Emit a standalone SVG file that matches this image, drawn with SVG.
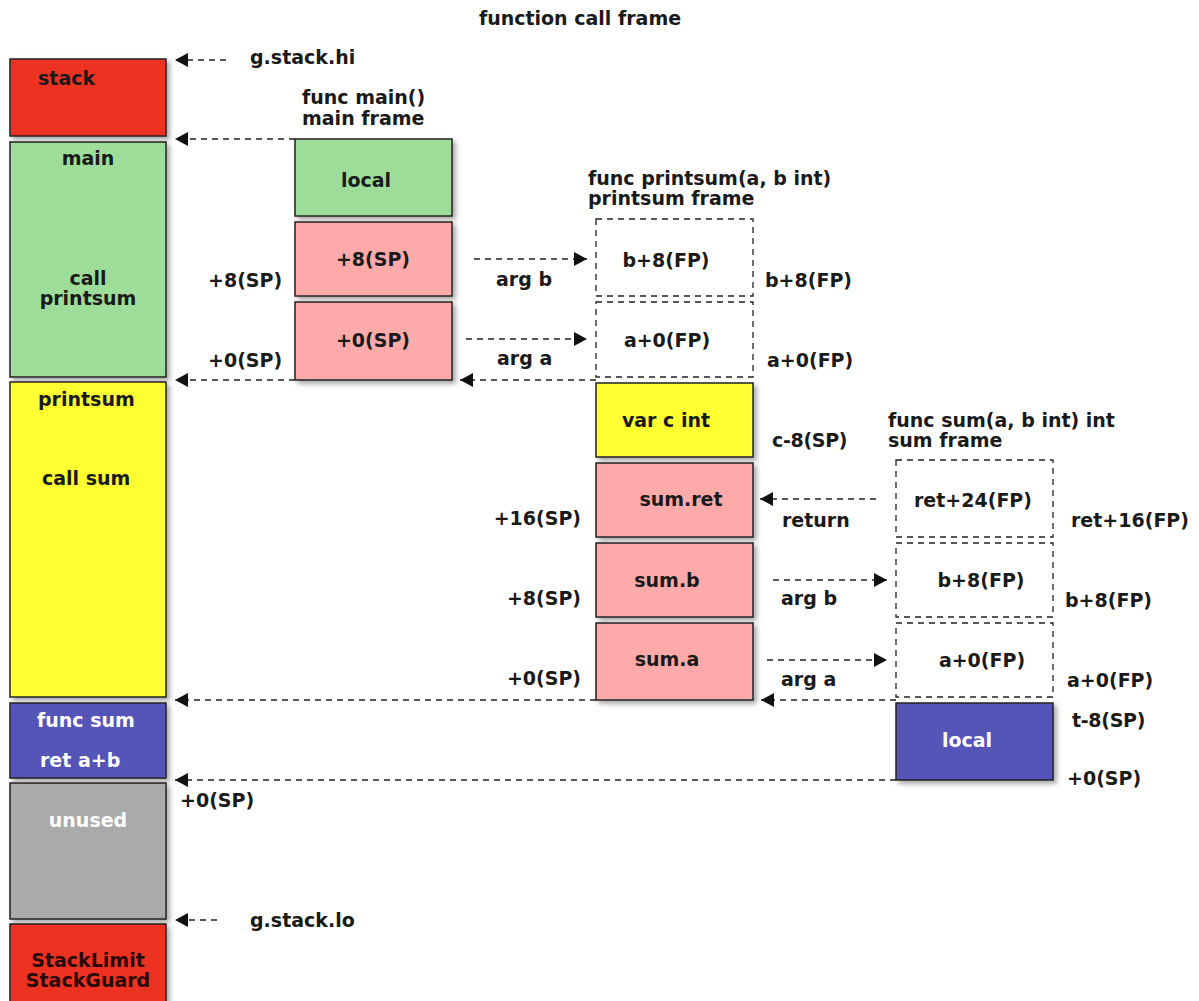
<svg xmlns="http://www.w3.org/2000/svg" width="1199" height="1001" viewBox="0 0 1199 1001">
<defs>
<style>
text{font-family:"DejaVu Sans","Verdana",sans-serif;font-weight:bold;font-size:19px;fill:#1a1a1a}
.c{text-anchor:middle}
.r{text-anchor:end}
.w{fill:#ffffff}
.dr{fill:#2a0606}
.box{stroke:#222;stroke-width:1.5;filter:url(#sh)}
.frame{fill:none;stroke:#222;stroke-width:1.3;stroke-dasharray:6 5}
.red{fill:#ee3224}
.green{fill:#9ddd99}
.yellow{fill:#ffff33}
.blue{fill:#5454b8}
.gray{fill:#aaaaaa}
.pink{fill:#ffaaaa}
.conn line{stroke:#222;stroke-width:1.3;stroke-dasharray:6 5;marker-end:url(#ah)}
</style>
<filter id="sh" x="-10%" y="-10%" width="130%" height="130%">
<feDropShadow dx="3" dy="3" stdDeviation="2.5" flood-color="#000" flood-opacity="0.35"/>
</filter>
<marker id="ah" markerUnits="userSpaceOnUse" markerWidth="14" markerHeight="15" refX="13" refY="7" orient="auto">
<path d="M0,0 L13,7 L0,14 z" fill="#111"/>
</marker>
</defs>
<rect width="1199" height="1001" fill="#ffffff"/>
<text class="c" x="580" y="25">function call frame</text>

<!-- left stack column -->
<g id="stack"><rect class="box red" x="10" y="59" width="156" height="77"/><text x="38" y="85">stack</text></g>
<g id="main"><rect class="box green" x="10" y="142" width="156" height="235"/><text class="c" x="88" y="165">main</text><text class="c" x="88" y="285">call</text><text class="c" x="88" y="305">printsum</text></g>
<g id="printsum"><rect class="box yellow" x="10" y="382" width="156" height="315"/><text x="38" y="406">printsum</text><text x="42" y="485">call sum</text></g>
<g id="funcsum"><rect class="box blue" x="10" y="703" width="156" height="75"/><text class="w" x="37" y="727">func sum</text><text class="w" x="40" y="767">ret a+b</text></g>
<g id="unused"><rect class="box gray" x="10" y="783" width="156" height="136"/><text class="c w" x="88" y="827">unused</text></g>
<g id="stackguard"><rect class="box red" x="10" y="924" width="156" height="90"/><text class="c dr" x="88" y="967">StackLimit</text><text class="c dr" x="88" y="987">StackGuard</text></g>

<!-- main frame -->
<text x="302" y="104">func main()</text>
<text x="302" y="125">main frame</text>
<g id="main-local"><rect class="box green" x="295" y="139" width="157" height="77"/><text class="c" x="366" y="187">local</text></g>
<g id="main-arg8"><rect class="box pink" x="295" y="222" width="157" height="74"/><text class="c" x="373" y="266">+8(SP)</text></g>
<g id="main-arg0"><rect class="box pink" x="295" y="302" width="157" height="78"/><text class="c" x="373" y="347">+0(SP)</text></g>
<text x="208" y="287">+8(SP)</text>
<text x="208" y="367">+0(SP)</text>
<text x="496" y="286">arg b</text>
<text x="497" y="365">arg a</text>

<!-- printsum frame -->
<text x="588" y="185">func printsum(a, b int)</text>
<text x="588" y="205">printsum frame</text>
<g id="ps-b"><rect class="frame" x="596" y="219" width="157" height="77"/><text class="c" x="666" y="267">b+8(FP)</text></g>
<g id="ps-a"><rect class="frame" x="596" y="302" width="157" height="75"/><text class="c" x="667" y="347">a+0(FP)</text></g>
<text x="765" y="287">b+8(FP)</text>
<text x="767" y="367">a+0(FP)</text>
<g id="ps-c"><rect class="box yellow" x="596" y="383" width="157" height="74"/><text class="c" x="666" y="427">var c int</text></g>
<text x="772" y="447" letter-spacing="-0.3">c-8(SP)</text>
<g id="ps-ret"><rect class="box pink" x="596" y="463" width="157" height="74"/><text class="c" x="681" y="506">sum.ret</text></g>
<g id="ps-sb"><rect class="box pink" x="596" y="543" width="157" height="74"/><text class="c" x="667" y="587">sum.b</text></g>
<g id="ps-sa"><rect class="box pink" x="596" y="623" width="157" height="77"/><text class="c" x="667" y="666">sum.a</text></g>
<text class="r" x="581" y="525">+16(SP)</text>
<text class="r" x="581" y="605">+8(SP)</text>
<text class="r" x="581" y="685">+0(SP)</text>
<text x="782" y="527">return</text>
<text x="781" y="605">arg b</text>
<text x="781" y="686">arg a</text>

<!-- sum frame -->
<text x="888" y="427">func sum(a, b int) int</text>
<text x="888" y="447">sum frame</text>
<g id="s-ret"><rect class="frame" x="896" y="460" width="157" height="77"/><text class="c" x="973" y="507">ret+24(FP)</text></g>
<g id="s-b"><rect class="frame" x="896" y="543" width="157" height="74"/><text class="c" x="981" y="587">b+8(FP)</text></g>
<g id="s-a"><rect class="frame" x="896" y="623" width="157" height="74"/><text class="c" x="982" y="667">a+0(FP)</text></g>
<g id="s-local"><rect class="box blue" x="896" y="703" width="157" height="77"/><text class="c w" x="967" y="747">local</text></g>
<text x="1071" y="527">ret+16(FP)</text>
<text x="1065" y="607">b+8(FP)</text>
<text x="1067" y="687">a+0(FP)</text>
<text x="1072" y="727" letter-spacing="-0.3">t-8(SP)</text>
<text x="1067" y="785">+0(SP)</text>

<text x="250" y="64">g.stack.hi</text>
<text x="180" y="807">+0(SP)</text>
<text x="250" y="927">g.stack.lo</text>

<g id="connectors" class="conn">
<line x1="226" y1="60" x2="175" y2="60"/>
<line x1="295" y1="139" x2="175" y2="139"/>
<line x1="474" y1="259" x2="587" y2="259"/>
<line x1="466" y1="339" x2="587" y2="339"/>
<line x1="295" y1="380" x2="175" y2="380"/>
<line x1="596" y1="380" x2="460" y2="380"/>
<line x1="876" y1="499" x2="760" y2="499"/>
<line x1="773" y1="580" x2="887" y2="580"/>
<line x1="767" y1="660" x2="887" y2="660"/>
<line x1="896" y1="700" x2="761" y2="700"/>
<line x1="596" y1="700" x2="175" y2="700"/>
<line x1="896" y1="780" x2="175" y2="780"/>
<line x1="217" y1="920" x2="175" y2="920"/>
</g>
</svg>
